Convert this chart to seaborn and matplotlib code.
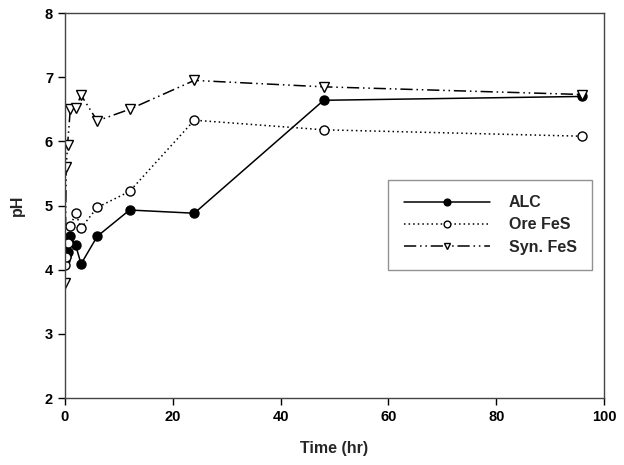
import matplotlib
matplotlib.use("Agg")
import matplotlib.pyplot as plt
import pandas as pd
import seaborn as sns

# --- data ---
TIME = [0, 0.25, 0.5, 1, 2, 3, 6, 12, 24, 48, 96]
ALC = [4.15, 4.22, 4.28, 4.52, 4.38, 4.09, 4.52, 4.93, 4.88, 6.64, 6.70]
ORE_FES = [4.07, 4.20, 4.41, 4.68, 4.88, 4.65, 4.97, 5.22, 6.33, 6.18, 6.08]
SYN_FES = [3.80, 5.60, 5.95, 6.50, 6.52, 6.72, 6.32, 6.50, 6.95, 6.85, 6.73]

SERIES = ["ALC", "Ore FeS", "Syn. FeS"]
X_TICKS = [0, 20, 40, 60, 80, 100]
Y_TICKS = [2, 3, 4, 5, 6, 7, 8]

sns.set_style("ticks")
plt.rcParams["font.family"] = ["Liberation Sans", "DejaVu Sans"]
plt.rcParams["font.weight"] = "bold"

df = pd.DataFrame({
    "time": TIME * 3,
    "pH": ALC + ORE_FES + SYN_FES,
    "series": [s for s in SERIES for _ in TIME],
})

fig = plt.figure(figsize=(6.24, 4.65), dpi=100)
ax = fig.add_axes([0.104, 0.144, 0.864, 0.828])

styles = {
    "ALC": dict(ls="-", marker="o", mfc="black"),
    "Ore FeS": dict(ls=(0, (1, 2)), marker="o", mfc="white"),
    "Syn. FeS": dict(ls=(0, (8, 2.5, 1, 2.5, 1, 2.5)), marker="v", mfc="white"),
}
for name in SERIES:
    st = styles[name]
    sns.lineplot(data=df[df.series == name], x="time", y="pH", ax=ax,
                 color="black", linestyle=st["ls"], linewidth=1.1,
                 marker=st["marker"], markersize=6.5, markerfacecolor=st["mfc"],
                 markeredgecolor="black", markeredgewidth=1.0, label=name,
                 errorbar=None)

ax.set_xlim(0, 100)
ax.set_ylim(2, 8)
ax.set_xticks(X_TICKS)
ax.set_yticks(Y_TICKS)
ax.tick_params(direction="out", length=5, width=1, labelsize=10.5, colors="black")
for lab in ax.get_xticklabels() + ax.get_yticklabels():
    lab.set_fontweight("bold")
for sp in ax.spines.values():
    sp.set_visible(True)
    sp.set_linewidth(1.0)
    sp.set_color("#444444")

ax.set_xlabel("Time (hr)", fontsize=11.5, fontweight="bold", labelpad=12)
ax.set_ylabel("pH", fontsize=11.5, fontweight="bold", labelpad=14)

leg = ax.legend(loc="upper left", bbox_to_anchor=(0.600, 0.566), frameon=True,
                fancybox=False, edgecolor="#777777", handlelength=5.4,
                handletextpad=1.2, borderpad=0.95, labelspacing=0.45,
                markerscale=0.75, borderaxespad=0,
                prop={"size": 11.5, "weight": "bold"})
leg.get_frame().set_linewidth(1.0)

fig.savefig("out.png", dpi=100)
